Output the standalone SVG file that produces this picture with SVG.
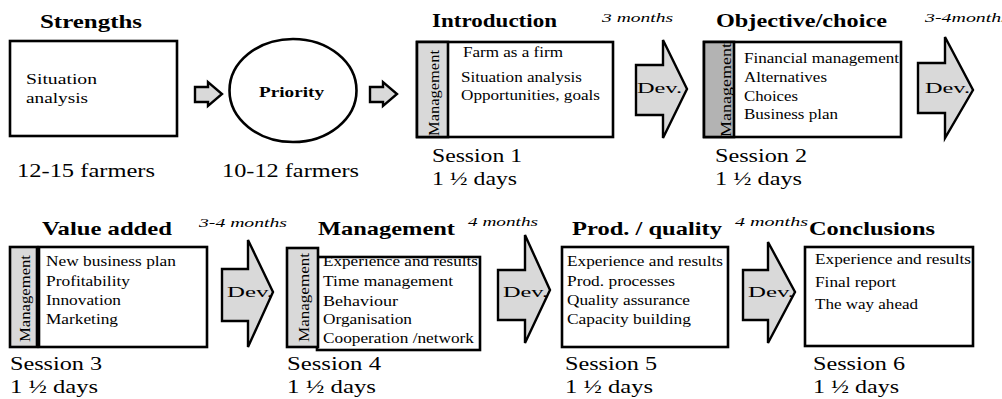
<svg xmlns="http://www.w3.org/2000/svg" width="1002" height="399" viewBox="0 0 1002 399" font-family="'Liberation Serif', 'DejaVu Serif', 'Times New Roman', serif">
<style>
text{font-family:'Liberation Serif','DejaVu Serif','Times New Roman',serif;fill:#000}
.t{font-size:19px;font-weight:bold}
.b{font-size:14px}
.s{font-size:19px}
.m{font-size:13px;font-style:italic}
.d{font-size:15px}
.v{font-size:15px}
.box{fill:#fff;stroke:#000;stroke-width:2.6}
.strip{fill:#d9d9d9;stroke:#000;stroke-width:2.6}
.arr{fill:#d9d9d9;stroke:#000;stroke-width:2.4;stroke-linejoin:miter}
</style>
<rect width="1002" height="399" fill="#fff"/>

<g id="strengths">
<text class="t" x="40" y="28" textLength="102" lengthAdjust="spacingAndGlyphs">Strengths</text>
<rect class="box" x="10" y="41" width="167" height="95"/>
<text class="d" x="26" y="84" textLength="71" lengthAdjust="spacingAndGlyphs">Situation</text>
<text class="d" x="26" y="103" textLength="62" lengthAdjust="spacingAndGlyphs">analysis</text>
<text class="s" x="17" y="177" textLength="138" lengthAdjust="spacingAndGlyphs">12-15 farmers</text>
</g>

<g id="priority">
<ellipse cx="293" cy="90.5" rx="63.5" ry="51.5" fill="#fff" stroke="#000" stroke-width="2.6"/>
<text x="259" y="97" style="font-size:15px;font-weight:bold" textLength="65" lengthAdjust="spacingAndGlyphs">Priority</text>
<text class="s" x="222" y="177" textLength="137" lengthAdjust="spacingAndGlyphs">10-12 farmers</text>
</g>

<g id="session1">
<text class="t" x="432" y="27" textLength="125" lengthAdjust="spacingAndGlyphs">Introduction</text>
<rect class="box" x="417" y="42" width="196" height="95"/>
<rect class="strip" x="417" y="42" width="31" height="95"/>
<text class="v" transform="translate(439,136) rotate(-90)" textLength="86" lengthAdjust="spacingAndGlyphs">Management</text>
<text class="b" x="463" y="57" textLength="100" lengthAdjust="spacingAndGlyphs">Farm as a firm</text>
<text class="b" x="461" y="82" textLength="121" lengthAdjust="spacingAndGlyphs">Situation analysis</text>
<text class="b" x="461" y="100" textLength="139" lengthAdjust="spacingAndGlyphs">Opportunities, goals</text>
<text class="s" x="432" y="162" textLength="90" lengthAdjust="spacingAndGlyphs">Session 1</text>
<text class="s" x="432" y="185" textLength="85" lengthAdjust="spacingAndGlyphs">1 ½ days</text>
</g>

<g id="session2">
<text class="t" x="716" y="27" textLength="171" lengthAdjust="spacingAndGlyphs">Objective/choice</text>
<rect class="box" x="704" y="42" width="197" height="95"/>
<rect class="strip" x="704" y="42" width="30" height="95" style="fill:#b3b3b3"/>
<text class="v" transform="translate(731,137) rotate(-90)" textLength="94" lengthAdjust="spacingAndGlyphs">Management</text>
<text class="b" x="744" y="63" textLength="155" lengthAdjust="spacingAndGlyphs">Financial management</text>
<text class="b" x="744" y="82" textLength="83" lengthAdjust="spacingAndGlyphs">Alternatives</text>
<text class="b" x="744" y="101" textLength="54" lengthAdjust="spacingAndGlyphs">Choices</text>
<text class="b" x="744" y="119" textLength="94" lengthAdjust="spacingAndGlyphs">Business plan</text>
<text class="s" x="715" y="162" textLength="92" lengthAdjust="spacingAndGlyphs">Session 2</text>
<text class="s" x="715" y="185" textLength="87" lengthAdjust="spacingAndGlyphs">1 ½ days</text>
</g>

<g id="session3">
<text class="t" x="42" y="235" textLength="130" lengthAdjust="spacingAndGlyphs">Value added</text>
<rect class="strip" x="10" y="247" width="27" height="100"/>
<text class="v" transform="translate(30,342) rotate(-90)" textLength="87" lengthAdjust="spacingAndGlyphs">Management</text>
<rect class="box" x="39" y="247" width="168" height="100"/>
<text class="b" x="46" y="266" textLength="130" lengthAdjust="spacingAndGlyphs">New business plan</text>
<text class="b" x="46" y="286" textLength="84" lengthAdjust="spacingAndGlyphs">Profitability</text>
<text class="b" x="46" y="305" textLength="75" lengthAdjust="spacingAndGlyphs">Innovation</text>
<text class="b" x="46" y="324" textLength="72" lengthAdjust="spacingAndGlyphs">Marketing</text>
<text class="s" x="10" y="370" textLength="92" lengthAdjust="spacingAndGlyphs">Session 3</text>
<text class="s" x="10" y="393" textLength="88" lengthAdjust="spacingAndGlyphs">1 ½ days</text>
</g>

<g id="session4">
<text class="t" x="318" y="235" textLength="137" lengthAdjust="spacingAndGlyphs">Management</text>
<rect class="box" x="317" y="257" width="163" height="93"/>
<rect class="strip" x="287" y="248" width="31" height="99"/>
<text class="v" transform="translate(309,342) rotate(-90)" textLength="89" lengthAdjust="spacingAndGlyphs">Management</text>
<text class="b" x="323" y="266" textLength="155" lengthAdjust="spacingAndGlyphs">Experience and results</text>
<text class="b" x="323" y="286" textLength="130" lengthAdjust="spacingAndGlyphs">Time management</text>
<text class="b" x="323" y="306" textLength="75" lengthAdjust="spacingAndGlyphs">Behaviour</text>
<text class="b" x="323" y="324" textLength="89" lengthAdjust="spacingAndGlyphs">Organisation</text>
<text class="b" x="323" y="343" textLength="151" lengthAdjust="spacingAndGlyphs">Cooperation /network</text>
<text class="s" x="287" y="370" textLength="94" lengthAdjust="spacingAndGlyphs">Session 4</text>
<text class="s" x="287" y="393" textLength="89" lengthAdjust="spacingAndGlyphs">1 ½ days</text>
</g>

<g id="session5">
<text class="t" x="572" y="235" textLength="150" lengthAdjust="spacingAndGlyphs">Prod. / quality</text>
<rect class="box" x="562" y="247" width="166" height="100"/>
<text class="b" x="567" y="266" textLength="156" lengthAdjust="spacingAndGlyphs">Experience and results</text>
<text class="b" x="567" y="286" textLength="108" lengthAdjust="spacingAndGlyphs">Prod. processes</text>
<text class="b" x="567" y="305" textLength="123" lengthAdjust="spacingAndGlyphs">Quality assurance</text>
<text class="b" x="567" y="324" textLength="124" lengthAdjust="spacingAndGlyphs">Capacity building</text>
<text class="s" x="565" y="370" textLength="92" lengthAdjust="spacingAndGlyphs">Session 5</text>
<text class="s" x="565" y="393" textLength="88" lengthAdjust="spacingAndGlyphs">1 ½ days</text>
</g>

<g id="session6">
<text class="t" x="809" y="235" textLength="126" lengthAdjust="spacingAndGlyphs">Conclusions</text>
<rect class="box" x="805" y="247" width="168" height="99"/>
<text class="b" x="815" y="264" textLength="156" lengthAdjust="spacingAndGlyphs">Experience and results</text>
<text class="b" x="815" y="287" textLength="81" lengthAdjust="spacingAndGlyphs">Final report</text>
<text class="b" x="815" y="309" textLength="103" lengthAdjust="spacingAndGlyphs">The way ahead</text>
<text class="s" x="813" y="370" textLength="92" lengthAdjust="spacingAndGlyphs">Session 6</text>
<text class="s" x="813" y="393" textLength="86" lengthAdjust="spacingAndGlyphs">1 ½ days</text>
</g>

<g id="connectors">
<polygon class="arr" points="195,87 208,87 208,82 222,94 208,106 208,102 195,102"/>
<polygon class="arr" points="370,87 383,87 383,82 397,94 383,106 383,102 370,102"/>
<polygon class="arr" points="636,65 663,65 663,40 687,89 663,138 663,115 636,115"/>
<text class="d" x="637" y="93" textLength="45" lengthAdjust="spacingAndGlyphs">Dev.</text>
<text class="m" x="602" y="22" textLength="71" lengthAdjust="spacingAndGlyphs">3 months</text>
<polygon class="arr" points="918,63 945,63 945,37 973,90 945,138 945,113 918,113"/>
<text class="d" x="925" y="93" textLength="45" lengthAdjust="spacingAndGlyphs">Dev.</text>
<text class="m" x="925" y="22" textLength="84" lengthAdjust="spacingAndGlyphs">3-4months</text>
<polygon class="arr" points="222,269 248,269 248,240 273,292 248,347 248,321 222,321"/>
<text class="d" x="227" y="297" textLength="46" lengthAdjust="spacingAndGlyphs">Dev.</text>
<text class="m" x="199" y="227" textLength="88" lengthAdjust="spacingAndGlyphs">3-4 months</text>
<polygon class="arr" points="498,270 525,270 525,235 550,290 525,343 525,320 498,320"/>
<text class="d" x="503" y="297" textLength="45" lengthAdjust="spacingAndGlyphs">Dev.</text>
<text class="m" x="468" y="226" textLength="70" lengthAdjust="spacingAndGlyphs">4 months</text>
<polygon class="arr" points="743,270 768,270 768,242 795,292 768,343 768,320 743,320"/>
<text class="d" x="748" y="297" textLength="46" lengthAdjust="spacingAndGlyphs">Dev.</text>
<text class="m" x="735" y="226" textLength="73" lengthAdjust="spacingAndGlyphs">4 months</text>
</g>
</svg>
